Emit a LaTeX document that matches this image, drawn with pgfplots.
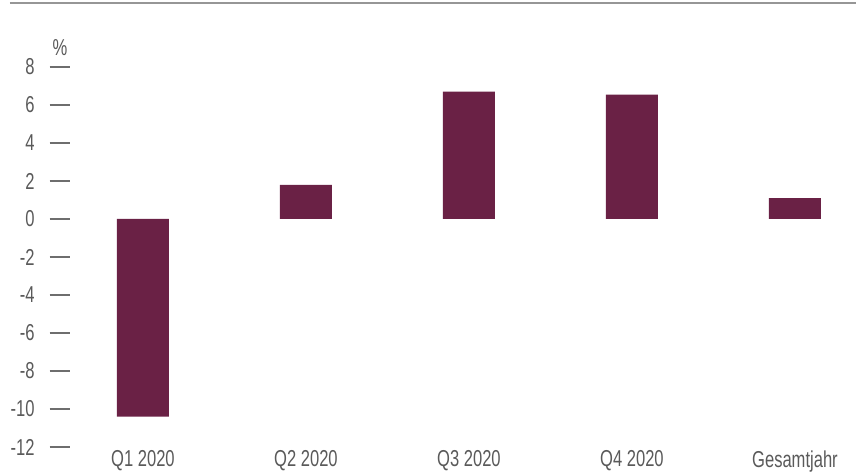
\documentclass[border=0pt]{standalone}
\usepackage{pgfplots}
\pgfplotsset{compat=1.18}
\usepackage{fontspec}
\setmainfont{Liberation Sans}[FakeStretch=0.72]
\definecolor{barcol}{RGB}{106,33,69}
\definecolor{txt}{RGB}{90,90,90}
\begin{document}
\fontsize{11.5pt}{13pt}\selectfont
\begin{tikzpicture}
\path[use as bounding box] (-34.8pt,-14pt) rectangle (393.2pt,223.5pt);
\draw[color={rgb,255:red,150;green,150;blue,150}, line width=0.7pt] (-29.8pt,222pt) -- (393.2pt,222pt);
\begin{axis}[
  at={(0,0)}, anchor=south west,
  scale only axis,
  x=81.5pt, y=9.5pt,
  xmin=-0.45, xmax=4.37,
  ymin=-12, ymax=8,
  clip=false,
  axis line style={draw=none},
  ytick pos=left,
  xtick=data,
  xticklabels={Q1 2020,Q2 2020,Q3 2020,Q4 2020,Gesamtjahr},
  x tick style={draw=none},
  ytick={-12,-10,...,8},
  y tick style={draw={rgb,255:red,110;green,110;blue,110}, line width=0.55pt},
  tick align=outside,
  major tick length=10pt,
  /pgf/number format/assume math mode=true,
  ticklabel style={font=\fontsize{11.5pt}{13pt}\selectfont, text=txt},
  yticklabel style={xshift=-3.5pt},
  xticklabel style={yshift=9.5pt, inner sep=1pt},
  ybar, bar width=26pt,
]
\addplot[draw=none, fill=barcol] coordinates {(0,-10.4) (1,1.8) (2,6.7) (3,6.55) (4,1.1)};
\node[text=txt, font=\fontsize{11.5pt}{13pt}\selectfont] at (rel axis cs:0,1) [xshift=-4.8pt, yshift=9.5pt] {\%};
\end{axis}
\end{tikzpicture}
\end{document}
